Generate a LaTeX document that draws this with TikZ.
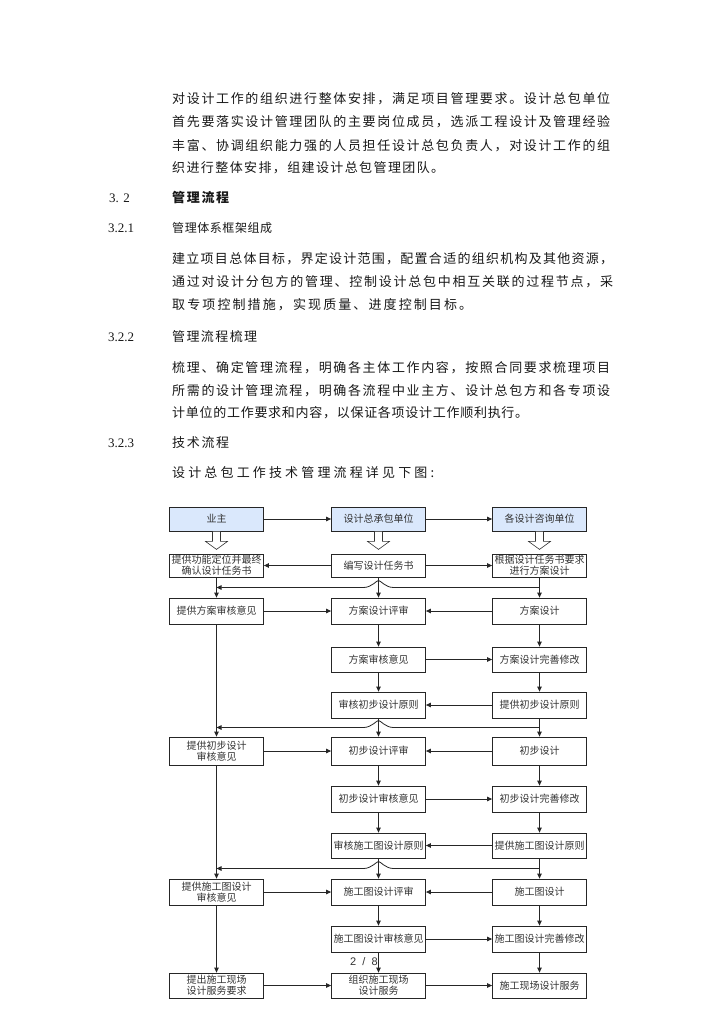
\documentclass[tikz,border=0pt]{standalone}
\usepackage{fontspec}
\setmainfont{Liberation Serif}
\newfontfamily\cjk{Noto Sans CJK SC}
\newfontfamily\pgfont{Liberation Sans}
\usetikzlibrary{arrows.meta,calc}
\definecolor{hdrblue}{RGB}{218,232,252}
\def\spr#1{\sprA#1\relax}
\def\sprA#1{#1\sprB}
\def\sprB#1{\ifx\relax#1\else\hfil#1\expandafter\sprB\fi}
\tikzset{
  body/.style={anchor=west, inner sep=0pt, font=\cjk\fontsize{13}{15}\selectfont, text=black!90},
  numtxt/.style={anchor=west, inner sep=0pt, font=\fontsize{13}{15}\selectfont, text=black!90},
  box/.style={draw=black!85, line width=0.8pt, minimum width=94pt, minimum height=25pt, inner sep=1pt, align=center, font=\cjk\fontsize{10}{11}\selectfont, text=black!80},
  hdr/.style={box, fill=hdrblue, minimum height=24pt},
  arr/.style={draw=black!85, line width=0.8pt, -{Triangle[length=5pt,width=4.5pt]}},
  barrow/.style={draw=black!80, line width=0.6pt, fill=white},
}
\begin{document}
\begin{tikzpicture}[x=1pt,y=-1pt]
\path[fill=white] (0,0) rectangle (724,1024);
\useasboundingbox (0,0) rectangle (724,1024);

% ---- text ----
\node[body] (t1) at (172,99) {\makebox[438pt][s]{\spr{对设计工作的组织进行整体安排，满足项目管理要求。设计总包单位}}};
\node[body] (t2) at (172,122) {\makebox[438pt][s]{\spr{首先要落实设计管理团队的主要岗位成员，选派工程设计及管理经验}}};
\node[body] (t3) at (172,146) {\makebox[438pt][s]{\spr{丰富、协调组织能力强的人员担任设计总包负责人，对设计工作的组}}};
\node[body] (t4) at (172,168) {\makebox[272pt][s]{\spr{织进行整体安排，组建设计总包管理团队。}}};

\node[numtxt] (n32) at (109,198) {3. 2};
\node[body, font=\cjk\bfseries\fontsize{13}{15}\selectfont] (h32) at (172,198) {\makebox[57pt][s]{\spr{管理流程}}};

\node[numtxt] (n321) at (108,228) {3.2.1};
\node[body, font=\cjk\fontsize{12}{14}\selectfont] (h321) at (172,228) {\makebox[100pt][s]{\spr{管理体系框架组成}}};
\node[body] (t5) at (172,259) {\makebox[441pt][s]{\spr{建立项目总体目标，界定设计范围，配置合适的组织机构及其他资源，}}};
\node[body] (t6) at (172,282) {\makebox[441pt][s]{\spr{通过对设计分包方的管理、控制设计总包中相互关联的过程节点，采}}};
\node[body] (t7) at (172,305) {\makebox[300pt][s]{\spr{取专项控制措施，实现质量、进度控制目标。}}};

\node[numtxt] (n322) at (108,337) {3.2.2};
\node[body] (h322) at (172,337) {\makebox[85pt][s]{\spr{管理流程梳理}}};
\node[body] (t8) at (172,368) {\makebox[438pt][s]{\spr{梳理、确定管理流程，明确各主体工作内容，按照合同要求梳理项目}}};
\node[body] (t9) at (172,391) {\makebox[438pt][s]{\spr{所需的设计管理流程，明确各流程中业主方、设计总包方和各专项设}}};
\node[body] (t10) at (172,413) {\makebox[356pt][s]{\spr{计单位的工作要求和内容，以保证各项设计工作顺利执行。}}};

\node[numtxt] (n323) at (108,443) {3.2.3};
\node[body] (h323) at (172,443) {\makebox[57pt][s]{\spr{技术流程}}};
\node[body] (t11) at (172,473) {\makebox[262pt][s]{\spr{设计总包工作技术管理流程详见下图:}}};

% ---- flowchart nodes ----
\node[hdr] (h1) at (216.5,519) {业主};
\node[hdr] (h2) at (378.5,519) {设计总承包单位};
\node[hdr] (h3) at (539.5,519) {各设计咨询单位};

\node[box, minimum height=23pt] (l2) at (216.5,565.5) {提供功能定位并最终\\确认设计任务书};
\node[box, minimum height=23pt] (m2) at (378.5,565.5) {编写设计任务书};
\node[box, minimum height=23pt] (r2) at (539.5,565.5) {根据设计任务书要求\\进行方案设计};

\node[box, minimum height=26pt] (l3) at (216.5,611) {提供方案审核意见};
\node[box, minimum height=26pt] (m3) at (378.5,611) {方案设计评审};
\node[box, minimum height=26pt] (r3) at (539.5,611) {方案设计};

\node[box] (m4) at (378.5,659.5) {方案审核意见};
\node[box] (r4) at (539.5,659.5) {方案设计完善修改};

\node[box, minimum height=26pt] (m5) at (378.5,705) {审核初步设计原则};
\node[box, minimum height=26pt] (r5) at (539.5,705) {提供初步设计原则};

\node[box, minimum height=28pt] (l6) at (216.5,751) {提供初步设计\\审核意见};
\node[box, minimum height=28pt] (m6) at (378.5,751) {初步设计评审};
\node[box, minimum height=28pt] (r6) at (539.5,751) {初步设计};

\node[box, minimum height=26pt] (m7) at (378.5,799) {初步设计审核意见};
\node[box, minimum height=26pt] (r7) at (539.5,799) {初步设计完善修改};

\node[box] (m8) at (378.5,845.5) {审核施工图设计原则};
\node[box] (r8) at (539.5,845.5) {提供施工图设计原则};

\node[box, minimum height=26pt] (l9) at (216.5,892) {提供施工图设计\\审核意见};
\node[box, minimum height=26pt] (m9) at (378.5,892) {施工图设计评审};
\node[box, minimum height=26pt] (r9) at (539.5,892) {施工图设计};

\node[box, minimum height=26pt] (m10) at (378.5,939) {施工图设计审核意见};
\node[box, minimum height=26pt] (r10) at (539.5,939) {施工图设计完善修改};

\node[box] (l11) at (216.5,985.5) {提出施工现场\\设计服务要求};
\node[box] (m11) at (378.5,985.5) {组织施工现场\\设计服务};
\node[box] (r11) at (539.5,985.5) {施工现场设计服务};

\node[font=\pgfont\fontsize{11}{13}\selectfont, text=black!80, inner sep=0pt] (pg) at (364,962) {2\ \ /\ \ 8};

% ---- connectors ----
\draw[arr] (h1.east) -- (h2.west);
\draw[arr] (h2.east) -- (h3.west);
\foreach \h in {h1,h2,h3}{
  \draw[barrow] ($(\h.south)+(-4,0)$) -- ++(0,10) -- ++(-7,0) -- ++(11,8) -- ++(11,-8) -- ++(-7,0) -- ++(0,-10) -- cycle;
}
\draw[arr] (m2.west) -- (l2.east);
\draw[arr] (m2.east) -- (r2.west);
\draw[arr] (l2.south) -- (l3.north);
\draw[arr] (m2.south) -- (m3.north);
\draw[arr] (r2.south) -- (r3.north);
\coordinate (j1) at ($(m2.south)!0.5!(m3.north)$);
\draw[arr] (r2.south |- j1) -- ($(j1)+(15,0)$) .. controls ($(j1)+(7,0)$) and ($(j1)+(2,-7)$) .. ($(j1)+(0,-7)$) .. controls ($(j1)+(-2,-7)$) and ($(j1)+(-7,0)$) .. ($(j1)+(-15,0)$) -- (l2.south |- j1);

\draw[arr] (l3.east) -- (m3.west);
\draw[arr] (r3.west) -- (m3.east);
\draw[arr] (m3.south) -- (m4.north);
\draw[arr] (r3.south) -- (r4.north);
\draw[arr] (m4.east) -- (r4.west);
\draw[arr] (m4.south) -- (m5.north);
\draw[arr] (r4.south) -- (r5.north);
\draw[arr] (r5.west) -- (m5.east);
\draw[arr] (m5.south) -- (m6.north);
\draw[arr] (r5.south) -- (r6.north);
\draw[arr] (l3.south) -- (l6.north);
\coordinate (j2) at ($(m5.south)!0.5!(m6.north)$);
\draw[arr] (r5.south |- j2) -- ($(j2)+(15,0)$) .. controls ($(j2)+(7,0)$) and ($(j2)+(2,-7)$) .. ($(j2)+(0,-7)$) .. controls ($(j2)+(-2,-7)$) and ($(j2)+(-7,0)$) .. ($(j2)+(-15,0)$) -- (l3.south |- j2);

\draw[arr] (l6.east) -- (m6.west);
\draw[arr] (r6.west) -- (m6.east);
\draw[arr] (m6.south) -- (m7.north);
\draw[arr] (r6.south) -- (r7.north);
\draw[arr] (m7.east) -- (r7.west);
\draw[arr] (m7.south) -- (m8.north);
\draw[arr] (r7.south) -- (r8.north);
\draw[arr] (r8.west) -- (m8.east);
\draw[arr] (m8.south) -- (m9.north);
\draw[arr] (r8.south) -- (r9.north);
\draw[arr] (l6.south) -- (l9.north);
\coordinate (j3) at ($(m8.south)!0.5!(m9.north)$);
\draw[arr] (r8.south |- j3) -- ($(j3)+(15,0)$) .. controls ($(j3)+(7,0)$) and ($(j3)+(2,-7)$) .. ($(j3)+(0,-7)$) .. controls ($(j3)+(-2,-7)$) and ($(j3)+(-7,0)$) .. ($(j3)+(-15,0)$) -- (l6.south |- j3);

\draw[arr] (l9.east) -- (m9.west);
\draw[arr] (r9.west) -- (m9.east);
\draw[arr] (m9.south) -- (m10.north);
\draw[arr] (r9.south) -- (r10.north);
\draw[arr] (m10.east) -- (r10.west);
\draw[arr] (m10.south) -- (m11.north);
\draw[arr] (r10.south) -- (r11.north);
\draw[arr] (l9.south) -- (l11.north);
\draw[arr] (l11.east) -- (m11.west);
\draw[arr] (m11.east) -- (r11.west);
\end{tikzpicture}
\end{document}
